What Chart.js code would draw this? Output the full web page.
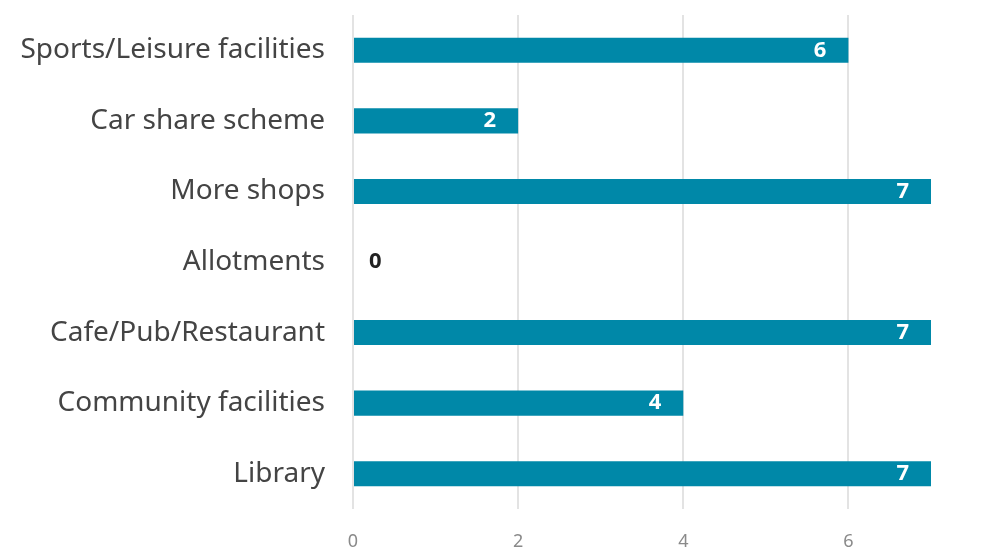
<!DOCTYPE html>
<html>
<head>
<meta charset="utf-8">
<script src="https://cdn.jsdelivr.net/npm/chart.js@4.4.0/dist/chart.umd.min.js"></script>
<style>
  html, body { margin: 0; padding: 0; background: #fff; }
  #wrap { width: 1005px; height: 551px; }
</style>
</head>
<body>
<div id="wrap"><canvas id="myChart" width="1005" height="551"></canvas></div>
<script>
var categories = ['Sports/Leisure facilities', 'Car share scheme', 'More shops', 'Allotments',
                  'Cafe/Pub/Restaurant', 'Community facilities', 'Library'];
var counts = [6, 2, 7, 0, 7, 4, 7];
var x_ticks = [0, 2, 4, 6];

// draws the number at the end of each bar (white inside, dark when the bar is empty)
var barLabels = {
  id: 'barLabels',
  afterDatasetsDraw: function(chart) {
    var ctx = chart.ctx;
    var meta = chart.getDatasetMeta(0);
    ctx.save();
    ctx.font = 'bold 22px "Noto Sans"';
    ctx.textBaseline = 'middle';
    meta.data.forEach(function(bar, i) {
      var v = counts[i];
      if (v === 0) {
        ctx.fillStyle = '#222';
        ctx.textAlign = 'left';
        ctx.fillText(String(v), bar.base + 16, bar.y);
      } else {
        ctx.fillStyle = '#fff';
        ctx.textAlign = 'right';
        ctx.fillText(String(v), bar.x - 22, bar.y);
      }
    });
    ctx.restore();
  }
};

var ctx = document.getElementById('myChart').getContext('2d');
var chart = new Chart(ctx, {
  type: 'bar',
  data: {
    labels: categories,
    datasets: [{
      data: counts,
      backgroundColor: '#0088a8',
      barPercentage: 0.355,
      categoryPercentage: 1.0
    }]
  },
  options: {
    indexAxis: 'y',
    responsive: false,
    animation: false,
    layout: { autoPadding: false, padding: { top: 15, right: 74, left: 0, bottom: 0 } },
    plugins: { legend: { display: false }, tooltip: { enabled: false } },
    scales: {
      x: {
        min: 0,
        max: 7,
        afterBuildTicks: function(axis) {
          axis.ticks = x_ticks.map(function(v) { return { value: v }; });
        },
        // fixed axis size so the plot area lines up with the picture
        afterFit: function(axis) { axis.height = 42; axis.paddingLeft = 0; axis.paddingRight = 0; },
        border: { display: false },
        grid: { color: '#e3e3e3', lineWidth: 2, drawTicks: false },
        ticks: { color: '#8a8a8a', padding: 22, font: { family: 'Noto Sans', size: 18 } }
      },
      y: {
        afterFit: function(axis) { axis.width = 353; axis.paddingTop = 0; axis.paddingBottom = 0; },
        border: { display: false },
        grid: { display: false, drawTicks: false },
        ticks: { color: '#444', padding: 28, font: { family: 'Noto Sans', size: 28 } }
      }
    }
  },
  plugins: [barLabels]
});
</script>
</body>
</html>
